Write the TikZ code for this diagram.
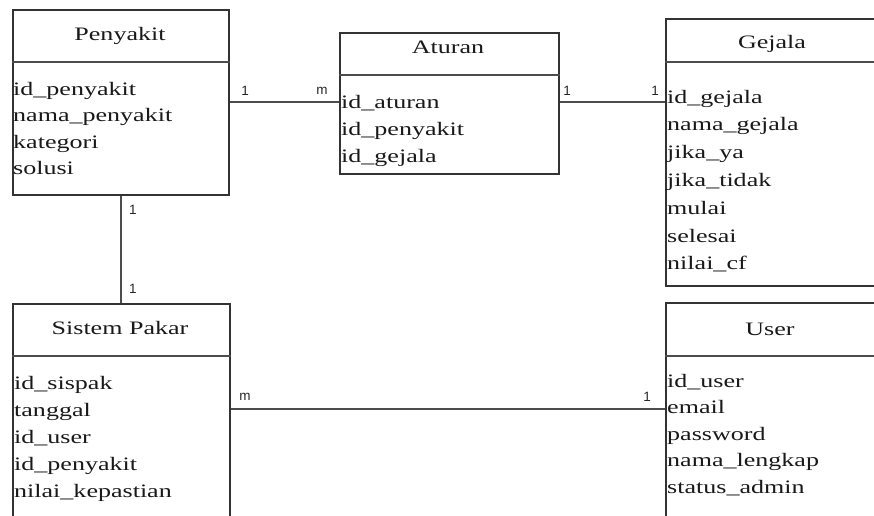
\documentclass[tikz,border=0pt]{standalone}
\usepackage{fontspec}
\setmainfont{Liberation Serif}[FakeStretch=1.37]
\newfontfamily\lblfont{Liberation Sans}
\begin{document}
\begin{tikzpicture}[x=1pt,y=-1pt,
  ent/.style={draw=black!80, line width=1.6pt, rectangle, inner sep=0pt, anchor=north west, fill=white},
  sepline/.style={draw=black!70, line width=1.6pt},
  ttl/.style={font=\fontsize{19}{19}\selectfont, anchor=base, inner sep=0pt, text=black!90},
  attr/.style={font=\fontsize{19}{19}\selectfont, anchor=base west, inner sep=0pt, text=black!90},
  rel/.style={draw=black!70, line width=1.6pt},
  card/.style={font=\lblfont\fontsize{13.5}{13.5}\selectfont, inner sep=0pt, text=black!85}]
\useasboundingbox (0,0) rectangle (874,515);
\clip (0,0) rectangle (874,515);

% entity boxes
\node[ent, minimum width=216pt, minimum height=185pt] (pen) at (12,9) {};
\node[ent, minimum width=219pt, minimum height=141pt] (att) at (339,32) {};
\node[ent, minimum width=215pt, minimum height=267pt] (gej) at (665,18) {};
\node[ent, minimum width=217pt, minimum height=230pt] (sis) at (12,303) {};
\node[ent, minimum width=215pt, minimum height=230pt] (usr) at (665,302) {};

% header separators
\draw[sepline] (pen.west |- 0,62) -- (pen.east |- 0,62);
\draw[sepline] (att.west |- 0,75) -- (att.east |- 0,75);
\draw[sepline] (gej.west |- 0,62) -- (gej.east |- 0,62);
\draw[sepline] (sis.west |- 0,356) -- (sis.east |- 0,356);
\draw[sepline] (usr.west |- 0,356) -- (usr.east |- 0,356);

% titles
\node[ttl] (tpen) at (120,40) {Penyakit};
\node[ttl] (tatt) at (448,53) {Aturan};
\node[ttl] (tgej) at (772,48) {Gejala};
\node[ttl] (tsis) at (120,334) {Sistem Pakar};
\node[ttl] (tusr) at (770,335) {User};

% attributes
\foreach \t [count=\i from 0] in {id\_penyakit, nama\_penyakit, kategori, solusi}
  \node[attr] (pa\i) at (13, 95+26.5*\i) {\t};
\foreach \t [count=\i from 0] in {id\_aturan, id\_penyakit, id\_gejala}
  \node[attr] (aa\i) at (341, 108+27*\i) {\t};
\foreach \t [count=\i from 0] in {id\_gejala, nama\_gejala, jika\_ya, jika\_tidak, mulai, selesai, nilai\_cf}
  \node[attr] (ga\i) at (667, 103+27.8*\i) {\t};
\foreach \t [count=\i from 0] in {id\_sispak, tanggal, id\_user, id\_penyakit, nilai\_kepastian}
  \node[attr] (sa\i) at (14, 389+27*\i) {\t};
\foreach \t [count=\i from 0] in {id\_user, email, password, nama\_lengkap, status\_admin}
  \node[attr] (ua\i) at (667, 387+26.5*\i) {\t};

% relationships
\draw[rel] (pen.east |- 0,102) -- (att.west |- 0,102);
\draw[rel] (att.east |- 0,102) -- (gej.west |- 0,102);
\draw[rel] (pen.south) -- (pen.south |- sis.north);
\draw[rel] (sis.east |- 0,409) -- (usr.west |- 0,409);

% cardinalities
\node[card] (c1) at (245,91) {1};
\node[card] (c2) at (322,91) {m};
\node[card] (c3) at (567,91) {1};
\node[card] (c4) at (655,91) {1};
\node[card] (c5) at (133,210) {1};
\node[card] (c6) at (133,289) {1};
\node[card] (c7) at (245,397) {m};
\node[card] (c8) at (647,397) {1};
\end{tikzpicture}
\end{document}
